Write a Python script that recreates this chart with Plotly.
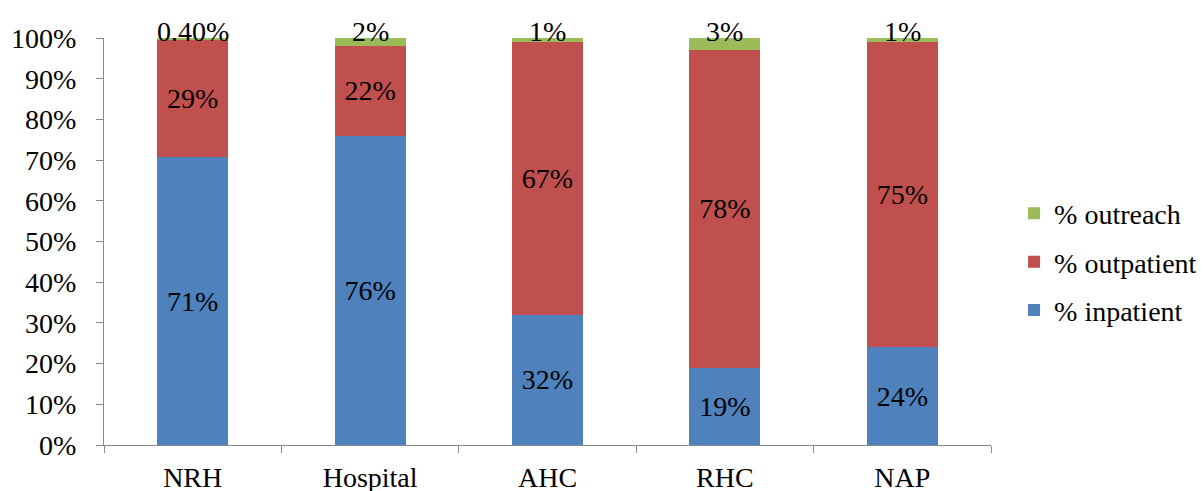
import plotly.graph_objects as go

# Share of service delivery by facility type
categories = ["NRH", "Hospital", "AHC", "RHC", "NAP"]
inpatient = [71, 76, 32, 19, 24]
outpatient = [29, 22, 67, 78, 75]
outreach = [0.40, 2, 1, 3, 1]
outreach_labels = ["0.40%", "2%", "1%", "3%", "1%"]
y_ticks = list(range(0, 101, 10))

FONT = "Times New Roman, Liberation Serif, DejaVu Serif, serif"
BLUE, RED, GREEN = "#4F81BD", "#C0504D", "#9BBB59"

fig = go.Figure()
fig.add_trace(go.Bar(
    x=categories, y=inpatient, name="% inpatient", marker_color=BLUE,
    text=[f"{v}%" for v in inpatient], textposition="inside",
    insidetextanchor="middle", legendrank=3, legendgroup="inpatient",
))
fig.add_trace(go.Bar(
    x=categories, y=outpatient, name="% outpatient", marker_color=RED,
    text=[f"{v}%" for v in outpatient], textposition="inside",
    insidetextanchor="middle", legendrank=2, legendgroup="outpatient",
))
fig.add_trace(go.Bar(
    x=categories, y=outreach, name="% outreach", marker_color=GREEN,
    legendrank=1, legendgroup="outreach",
))

# Outreach labels sit across the top of each stack
for cat, lab in zip(categories, outreach_labels):
    fig.add_annotation(x=cat, y=100, text=lab, showarrow=False,
                       yanchor="middle", yshift=7,
                       font=dict(family=FONT, size=28, color="black"))

fig.update_traces(marker_line_width=0,
                  textfont=dict(family=FONT, size=28, color="black"),
                  constraintext="none")

fig.update_layout(
    width=1204, height=491,
    margin=dict(l=104, r=213, t=38, b=46, autoexpand=False),
    barmode="stack", barnorm="percent", bargap=0.6,
    plot_bgcolor="white", paper_bgcolor="white",
    font=dict(family=FONT, size=28, color="black"),
    legend=dict(
        x=1.026, y=0.63, xanchor="left", yanchor="top",
        traceorder="grouped", tracegroupgap=9, itemwidth=30,
        font=dict(family=FONT, size=28, color="black"),
        bgcolor="rgba(0,0,0,0)",
    ),
    showlegend=True,
)
fig.update_yaxes(
    range=[0, 100], tickvals=y_ticks, ticktext=[f"{t}%" for t in y_ticks],
    showgrid=False, zeroline=False, showline=True, linecolor="#898989",
    linewidth=1, ticks="outside", ticklen=7, tickcolor="#898989",
    ticklabelstandoff=14, automargin=False,
    tickfont=dict(family=FONT, size=28, color="black"),
)
fig.update_xaxes(
    showgrid=False, showline=True, linecolor="#898989", linewidth=1,
    ticks="outside", ticklen=7, tickcolor="#898989", tickson="boundaries",
    ticklabelstandoff=7, automargin=False,
    tickfont=dict(family=FONT, size=28, color="black"),
)

fig.write_html("out.html")
